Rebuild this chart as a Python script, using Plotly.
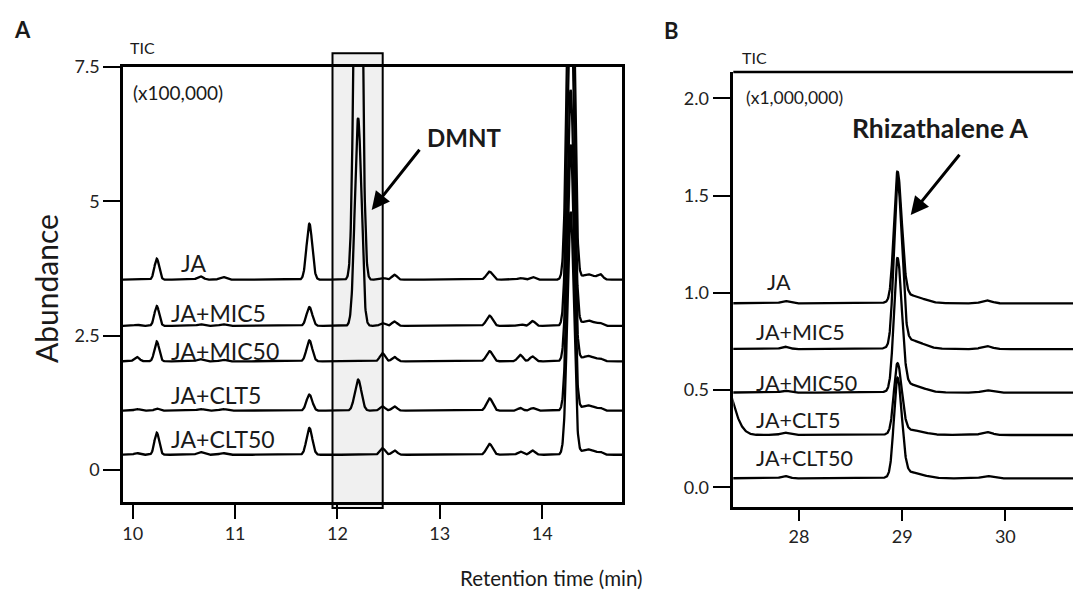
import numpy as np
import plotly.graph_objects as go

W, H = 1073, 602

series = ["JA", "JA+MIC5", "JA+MIC50", "JA+CLT5", "JA+CLT50"]

# ---------------- Panel A: TIC (x100,000), 10-14.8 min ----------------
a_baseline = [3.54, 2.68, 2.02, 1.10, 0.28]
a_rt = [10.04, 10.235, 10.66, 10.88, 11.726, 12.202, 12.44, 12.557,
        13.486, 13.786, 13.906, 14.278, 14.45, 14.568]
a_sigma = [0.025, 0.023, 0.03, 0.03, 0.028, 0.032, 0.025, 0.025,
           0.03, 0.025, 0.025, 0.032, 0.06, 0.025]
a_height = {
    "JA":       [0.00, 0.39, 0.06, 0.05, 1.04, 12.0, 0.03, 0.09, 0.15, 0.03, 0.05, 8.00, 0.10, 0.09],
    "JA+MIC5":  [0.02, 0.37, 0.03, 0.03, 0.35, 3.87, 0.05, 0.08, 0.19, 0.03, 0.09, 6.50, 0.10, 0.04],
    "JA+MIC50": [0.08, 0.37, 0.04, 0.03, 0.39, 0.00, 0.15, 0.08, 0.19, 0.12, 0.09, 5.05, 0.10, 0.04],
    "JA+CLT5":  [0.03, 0.04, 0.03, 0.03, 0.30, 0.58, 0.08, 0.08, 0.23, 0.05, 0.05, 4.95, 0.10, 0.04],
    "JA+CLT50": [0.03, 0.41, 0.05, 0.03, 0.50, 0.00, 0.12, 0.08, 0.20, 0.06, 0.08, 4.52, 0.10, 0.04],
}
a_xticks = [10, 11, 12, 13, 14]
a_yticks = [0, 2.5, 5, 7.5]
a_yticktext = ["0", "2.5", "5", "7.5"]

# ---------------- Panel B: TIC (x1,000,000), 27.4-30.6 min ----------------
b_baseline = [0.946, 0.711, 0.487, 0.269, 0.046]
b_rt = [27.25, 27.864, 28.954, 29.08, 29.82]
b_sigma_left = [0.10, 0.04, 0.034, 0.12, 0.05]
b_sigma_right = [0.10, 0.04, 0.042, 0.12, 0.05]
b_height = {
    "JA":       [0.000, 0.012, 0.655, 0.040, 0.015],
    "JA+MIC5":  [0.000, 0.012, 0.850, 0.045, 0.015],
    "JA+MIC50": [0.000, 0.010, 0.670, 0.040, 0.012],
    "JA+CLT5":  [0.310, 0.012, 0.355, 0.025, 0.015],
    "JA+CLT50": [0.000, 0.012, 0.500, 0.030, 0.012],
}
b_xticks = [28, 29, 30]
b_yticks = [0.0, 0.5, 1.0, 1.5, 2.0]


def chromatogram(x, base, rts, heights, sl, sr):
    y = np.full_like(x, base, dtype=float)
    for rt, h, s1, s2 in zip(rts, heights, sl, sr):
        s = np.where(x < rt, s1, s2)
        y = y + h * np.exp(-0.5 * ((x - rt) / s) ** 2)
    return y


xa = np.linspace(9.90, 14.80, 1961)
xb = np.linspace(27.30, 30.70, 1361)

fig = go.Figure()
for name, base in zip(series, a_baseline):
    fig.add_trace(go.Scatter(
        x=xa, y=chromatogram(xa, base, a_rt, a_height[name], a_sigma, a_sigma),
        mode="lines", line=dict(color="black", width=2.3), name=name,
        xaxis="x", yaxis="y", hoverinfo="skip", showlegend=False))
for name, base in zip(series, b_baseline):
    fig.add_trace(go.Scatter(
        x=xb, y=chromatogram(xb, base, b_rt, b_height[name], b_sigma_left, b_sigma_right),
        mode="lines", line=dict(color="black", width=2.3), name=name,
        xaxis="x2", yaxis="y2", hoverinfo="skip", showlegend=False))


def px(v):
    return v / W


def py(v):
    return 1 - v / H


axis_common = dict(showgrid=False, zeroline=False, ticks="outside", tickwidth=2,
                   tickcolor="black", showline=True, linewidth=2.5, linecolor="black",
                   automargin=False,
                   tickfont=dict(family="Lato", size=18, color="#222"))

fig.update_layout(
    width=W, height=H, margin=dict(l=0, r=0, t=0, b=0, pad=0), autosize=False,
    paper_bgcolor="white", plot_bgcolor="rgba(0,0,0,0)", showlegend=False,
    font=dict(family="Lato", color="#222"),
    xaxis=dict(domain=[px(123), px(622)], range=[9.905, 14.78], tickvals=a_xticks,
               ticklen=14, mirror=True, anchor="y", **axis_common),
    yaxis=dict(domain=[py(502), py(67)], range=[-0.6, 7.5], tickvals=a_yticks,
               ticktext=a_yticktext, ticklen=17, mirror=True, anchor="x", **axis_common),
    xaxis2=dict(domain=[px(733.3), 1.0], range=[27.363, 30.656], tickvals=b_xticks,
                ticklen=11, anchor="y2", **axis_common),
    yaxis2=dict(domain=[py(507.3), py(72)], range=[-0.103, 2.136], tickvals=b_yticks,
                tickformat=".1f", ticklen=18, anchor="x2", **axis_common),
)

shapes = [
    # highlighted DMNT window
    dict(type="rect", xref="paper", yref="paper", x0=px(332.5), x1=px(382.7),
         y0=py(508), y1=py(53.3), fillcolor="#f0f0f0",
         line=dict(color="black", width=2), layer="below"),
    # top border of panel B
    dict(type="line", xref="paper", yref="paper", x0=px(733.3), x1=1.0,
         y0=py(72), y1=py(72), line=dict(color="black", width=2.5)),
]
fig.update_layout(shapes=shapes)

ann = []


def text(x, y, t, size, bold=False, xanchor="left", angle=0):
    ann.append(dict(x=px(x), y=py(y), xref="paper", yref="paper", text=f"<b>{t}</b>" if bold else t,
                    showarrow=False, xanchor=xanchor, yanchor="middle", textangle=angle,
                    font=dict(family="Lato", size=size, color="#1a1a1a")))


text(12, 30, "A", 22, bold=True)
text(662, 31, "B", 22, bold=True)
text(128, 48, "TIC", 16)
text(131, 92, "(x100,000)", 19)
text(740, 57, "TIC", 16)
text(744, 97, "(x1,000,000)", 17.5)
text(464, 137, "DMNT", 24, bold=True, xanchor="center")
text(940, 128, "Rhizathalene A", 26.5, bold=True, xanchor="center")
text(46, 289, "Abundance", 30, xanchor="center", angle=-90)
text(551, 578, "Retention time (min)", 20.5, xanchor="center")

# trace labels, panel A
for lab, (x, y) in zip(series, [(179, 263), (169, 313), (169, 351), (169, 395), (169, 439)]):
    text(x, y, lab, 23)
# trace labels, panel B
for lab, (x, y) in zip(series, [(765, 282), (754, 332), (754, 383), (754, 420), (754, 458)]):
    text(x, y, lab, 21.5)

# arrows
for hx, hy, tx, ty in [(371.7, 210, 420.7, 148.3), (910.7, 215, 960.7, 153.3)]:
    ann.append(dict(x=px(hx), y=py(hy), xref="paper", yref="paper",
                    ax=tx - hx, ay=ty - hy, axref="pixel", ayref="pixel",
                    showarrow=True, arrowhead=2, arrowsize=1.2, arrowwidth=3,
                    arrowcolor="black", text=""))

fig.update_layout(annotations=ann)

pin_to_corner = (
    "document.documentElement.style.margin='0';"
    "document.documentElement.style.overflow='hidden';"
    "document.body.style.margin='0';"
    "document.body.style.overflow='hidden';"
    "var d=document.getElementById('{plot_id}');"
    "d.style.position='absolute';d.style.left='0px';d.style.top='0px';"
)
fig.write_html("out.html", config={"displayModeBar": False}, post_script=pin_to_corner)
